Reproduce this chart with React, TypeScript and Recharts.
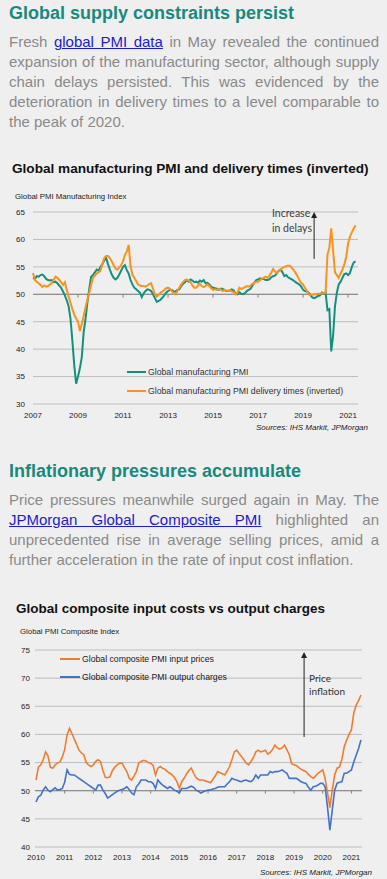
import React from 'react';
import { LineChart, Line, XAxis, YAxis, CartesianGrid, ReferenceLine } from 'recharts';

const FONT = '"Liberation Sans", Arial, sans-serif';
const TEAL_TEXT = '#188a7c';
const GREY_TEXT = '#8a8a8a';
const LINK = '#1b1bcf';

// ---------- chart 1: manufacturing PMI vs delivery times (inverted), monthly, Jan 2007 - May 2021
const pmiStartYear = 2007;
const manufacturingPmi: number[][] = [
  [53.0, 52.8, 53.3, 53.2, 53.5, 53.6, 53.3, 52.8, 52.6, 52.5, 52.6, 52.2],
  [52.3, 52.0, 51.6, 51.2, 50.5, 49.8, 48.9, 47.8, 45.5, 41.5, 37.0, 33.7],
  [35.0, 36.5, 38.5, 43.0, 45.5, 48.5, 51.0, 53.2, 53.5, 54.0, 54.5, 54.3],
  [55.0, 55.5, 56.2, 56.6, 55.5, 54.5, 53.6, 53.0, 52.7, 53.0, 53.6, 54.3],
  [55.0, 55.3, 54.4, 53.8, 52.6, 51.8, 51.2, 50.9, 50.6, 50.3, 49.5, 50.2],
  [50.6, 50.9, 50.8, 50.6, 50.0, 49.3, 48.6, 48.8, 49.0, 49.4, 49.8, 50.3],
  [50.6, 50.8, 50.8, 50.5, 50.5, 50.8, 50.9, 51.5, 51.9, 52.2, 52.6, 52.3],
  [52.7, 52.5, 52.2, 52.3, 52.1, 52.5, 52.3, 52.6, 52.0, 52.1, 51.8, 51.4],
  [51.2, 51.1, 51.0, 50.8, 51.0, 51.0, 50.8, 50.6, 50.6, 50.7, 50.9, 50.7],
  [50.1, 50.0, 50.4, 50.1, 50.0, 50.2, 50.6, 50.8, 51.0, 51.6, 52.1, 52.6],
  [52.7, 52.9, 52.8, 52.8, 52.6, 52.6, 52.7, 53.1, 53.3, 53.4, 53.8, 54.3],
  [54.5, 54.0, 53.3, 53.5, 53.1, 52.9, 52.7, 52.5, 52.2, 52.0, 51.8, 51.4],
  [50.8, 50.6, 50.5, 50.3, 49.8, 49.4, 49.3, 49.5, 49.7, 49.8, 50.3, 50.1],
  [50.4, 47.1, 47.3, 39.6, 42.4, 47.8, 50.3, 51.8, 52.3, 53.0, 53.7, 53.8],
  [53.5, 53.9, 55.0, 55.8, 56.0],
];
const deliveryInverted: number[][] = [
  [53.9, 52.6, 52.3, 52.0, 51.7, 51.3, 51.6, 51.4, 51.5, 51.8, 52.0, 52.6],
  [53.2, 53.0, 52.6, 52.2, 51.7, 52.2, 50.8, 49.6, 48.4, 47.3, 46.3, 45.6],
  [45.0, 43.3, 44.6, 46.0, 47.6, 49.0, 50.3, 51.8, 53.0, 53.4, 53.8, 54.0],
  [54.3, 55.5, 56.6, 57.0, 57.0, 56.6, 56.0, 55.3, 54.7, 54.5, 54.9, 55.3],
  [56.0, 57.2, 57.8, 59.0, 55.2, 53.6, 53.0, 52.4, 51.8, 51.6, 51.5, 51.5],
  [51.4, 51.6, 51.9, 52.0, 51.0, 50.0, 49.6, 49.9, 50.3, 50.5, 50.8, 51.1],
  [51.2, 51.0, 50.6, 50.1, 50.0, 50.6, 51.2, 51.8, 52.2, 52.6, 52.7, 52.5],
  [52.2, 51.6, 51.2, 51.2, 51.6, 51.9, 51.5, 51.3, 51.5, 51.8, 51.5, 51.1],
  [50.8, 50.9, 50.8, 51.0, 50.9, 50.6, 50.8, 50.7, 50.6, 50.8, 50.5, 50.4],
  [50.0, 50.3, 51.2, 51.0, 51.1, 51.3, 51.5, 51.4, 51.6, 51.9, 52.1, 52.3],
  [52.3, 52.6, 52.8, 53.0, 53.2, 53.0, 53.4, 53.9, 54.6, 54.2, 53.9, 54.2],
  [54.5, 54.8, 55.0, 55.1, 55.2, 55.2, 54.8, 54.4, 53.9, 53.3, 52.6, 52.1],
  [51.8, 51.2, 50.6, 50.0, 49.9, 49.9, 50.0, 50.0, 50.1, 50.1, 50.2, 50.2],
  [50.3, 57.2, 58.5, 62.0, 58.0, 54.0, 53.5, 53.0, 53.8, 54.5, 55.5, 56.8],
  [59.3, 60.5, 61.3, 62.0, 62.6],
];
const pmiXTicks = [2007, 2009, 2011, 2013, 2015, 2017, 2019, 2021];
const pmiYTicks = [30, 35, 40, 45, 50, 55, 60, 65];

// ---------- chart 2: composite input prices vs output charges, monthly, Jan 2010 - May 2021
const compStartYear = 2010;
const inputPrices: number[][] = [
  [51.9, 54.2, 54.6, 55.5, 56.9, 56.2, 54.2, 54.0, 54.6, 54.9, 55.1, 56.0],
  [57.3, 59.9, 61.1, 60.2, 59.2, 58.2, 57.2, 56.7, 56.4, 55.0, 54.6, 54.3],
  [54.6, 55.2, 55.5, 55.2, 53.6, 52.4, 52.3, 52.5, 53.6, 54.2, 54.6, 54.9],
  [54.9, 54.1, 53.4, 52.2, 51.9, 52.6, 53.4, 54.9, 55.2, 55.4, 55.3, 55.0],
  [54.9, 54.5, 52.8, 54.0, 54.3, 54.0, 53.8, 53.4, 53.1, 52.8, 52.3, 51.6],
  [50.4, 51.6, 52.2, 53.0, 53.6, 54.0, 53.1, 52.3, 52.0, 51.9, 51.9, 51.7],
  [51.6, 51.4, 52.0, 52.6, 53.4, 53.2, 53.0, 52.8, 53.5, 54.3, 55.5, 56.9],
  [57.2, 56.6, 56.1, 55.5, 54.9, 54.6, 55.2, 55.9, 56.9, 57.2, 56.9, 57.0],
  [57.2, 56.5, 56.8, 57.3, 58.1, 57.6, 57.4, 57.6, 58.1, 57.3, 56.4, 54.8],
  [54.6, 54.5, 54.1, 53.8, 53.6, 53.4, 52.9, 52.5, 52.2, 52.6, 53.1, 53.4],
  [53.7, 52.2, 49.6, 47.0, 50.1, 52.8, 54.0, 54.2, 55.5, 57.8, 59.0, 60.0],
  [60.8, 63.8, 65.2, 66.0, 67.0],
];
const outputCharges: number[][] = [
  [48.0, 48.9, 49.2, 50.1, 50.7, 50.1, 49.8, 50.2, 50.5, 50.1, 50.2, 50.4],
  [51.5, 53.7, 52.9, 52.8, 52.8, 52.5, 52.2, 51.9, 51.6, 51.3, 51.0, 50.7],
  [50.4, 50.1, 51.0, 51.0, 50.1, 49.5, 48.7, 49.0, 49.3, 49.6, 49.9, 50.1],
  [50.2, 50.4, 50.7, 50.2, 49.6, 49.3, 50.7, 51.2, 51.9, 51.9, 51.9, 51.6],
  [51.6, 51.3, 50.4, 51.9, 51.4, 51.0, 50.7, 50.4, 50.7, 50.4, 50.1, 49.9],
  [49.6, 50.4, 50.4, 50.4, 50.6, 50.8, 50.6, 50.1, 49.9, 49.6, 49.8, 50.0],
  [50.1, 50.1, 50.3, 50.4, 50.6, 50.7, 50.7, 50.7, 51.2, 51.6, 52.2, 52.0],
  [51.9, 51.7, 51.6, 51.8, 51.9, 51.7, 51.6, 52.0, 52.8, 52.2, 52.8, 52.8],
  [52.8, 52.8, 53.4, 53.2, 53.4, 53.4, 53.5, 53.7, 53.4, 53.1, 52.2, 52.2],
  [52.2, 52.2, 51.9, 51.6, 51.4, 51.3, 50.6, 50.1, 50.7, 50.8, 51.0, 51.3],
  [51.3, 50.7, 47.1, 43.0, 46.6, 50.1, 51.3, 51.5, 51.6, 53.1, 53.1, 53.4],
  [53.7, 55.1, 56.3, 57.5, 59.0],
];
const compXTicks = [2010, 2011, 2012, 2013, 2014, 2015, 2016, 2017, 2018, 2019, 2020, 2021];
const compYTicks = [40, 45, 50, 55, 60, 65, 70, 75];

type Row = { t: number; a: number; b: number };

function monthly(startYear: number, a: number[][], b: number[][]): Row[] {
  const rows: Row[] = [];
  a.forEach((yearVals, yi) => {
    yearVals.forEach((v, m) => {
      rows.push({ t: startYear + yi + m / 12, a: v, b: b[yi][m] });
    });
  });
  return rows;
}

const pmiData = monthly(pmiStartYear, manufacturingPmi, deliveryInverted);
const compData = monthly(compStartYear, inputPrices, outputCharges);

const arrowShape = (color: string) => (p: any) => {
  const x = p.x1;
  const top = Math.min(p.y1, p.y2);
  const bottom = Math.max(p.y1, p.y2);
  return (
    <g>
      <line x1={x} y1={bottom} x2={x} y2={top + 4} stroke={color} strokeWidth={1} />
      <polygon points={`${x - 3},${top + 6} ${x + 3},${top + 6} ${x},${top}`} fill={color} />
    </g>
  );
};

const abs = (left: number, top: number, extra: React.CSSProperties = {}): React.CSSProperties => ({
  position: 'absolute',
  left,
  top,
  whiteSpace: 'nowrap',
  ...extra,
});

const Para: React.FC<{ top: number; lines: React.ReactNode[] }> = ({ top, lines }) => (
  <>
    {lines.map((l, i) => (
      <div
        key={i}
        style={abs(9, top + i * 20, {
          width: 370,
          height: 20,
          lineHeight: '20px',
          fontSize: 15,
          color: GREY_TEXT,
          textAlign: 'justify',
          textAlignLast: i === lines.length - 1 ? 'left' : 'justify',
          whiteSpace: 'normal',
        })}
      >
        {l}
      </div>
    ))}
  </>
);

const Link: React.FC<{ children: React.ReactNode }> = ({ children }) => (
  <span style={{ color: LINK, textDecoration: 'underline' }}>{children}</span>
);

const LegendRow: React.FC<{ left: number; y: number; color: string; w: number; label: string; textColor: string; lw: number }> = ({
  left, y, color, w, label, textColor, lw,
}) => (
  <div style={abs(left, y - 6, { height: 12, display: 'flex', alignItems: 'center', fontSize: 8.7, color: textColor })}>
    <span style={{ display: 'inline-block', width: w, height: lw, background: color, marginRight: 2 }} />
    <span>{label}</span>
  </div>
);

const App: React.FC = () => {
  return (
    <div
      style={{
        position: 'absolute',
        left: 0,
        top: 0,
        width: 387,
        height: 879,
        background: '#efefef',
        overflow: 'hidden',
        fontFamily: FONT,
      }}
    >
      <div style={abs(9, 2, { fontSize: 18, lineHeight: '22px', fontWeight: 700, color: TEAL_TEXT })}>
        Global supply constraints persist
      </div>
      <Para
        top={32}
        lines={[
          <>Fresh <Link>global PMI data</Link> in May revealed the continued</>,
          'expansion of the manufacturing sector, although supply',
          'chain delays persisted. This was evidenced by the',
          'deterioration in delivery times to a level comparable to',
          'the peak of 2020.',
        ]}
      />

      <div style={abs(12, 161, { fontSize: 13.6, lineHeight: '16px', fontWeight: 700, color: '#111' })}>
        Global manufacturing PMI and delivery times (inverted)
      </div>
      <div style={abs(15, 192, { fontSize: 7.8, lineHeight: '10px', color: '#222' })}>Global PMI Manufacturing Index</div>

      <div style={abs(0, 200)}>
        <LineChart width={387} height={224} data={pmiData} margin={{ top: 12, right: 29, bottom: 0, left: 0 }}>
          <CartesianGrid vertical={false} stroke="#bdbdbd" strokeWidth={1} />
          <XAxis
            dataKey="t"
            type="number"
            domain={[2007, 2021.44]}
            ticks={pmiXTicks}
            axisLine={false}
            tickLine={false}
            height={20}
            tickSize={6}
            tickMargin={2}
            interval={0}
            tick={{ fontSize: 8, fill: '#222', fontFamily: FONT }}
          />
          <YAxis
            type="number"
            domain={[30, 65]}
            ticks={pmiYTicks}
            axisLine={false}
            tickLine={false}
            width={33}
            tickSize={6}
            tickMargin={2}
            interval={0}
            tick={{ fontSize: 8, fill: '#222', fontFamily: FONT }}
          />
          <ReferenceLine y={50} stroke="#808080" strokeWidth={1} />
          {pmiXTicks.slice(1).map((yr) => (
            <ReferenceLine
              key={yr}
              segment={[{ x: yr, y: 50 }, { x: yr, y: 49.4 }]}
              stroke="#808080"
              strokeWidth={1}
            />
          ))}
          <Line type="linear" dataKey="a" stroke="#14907f" strokeWidth={2} dot={false} isAnimationActive={false} />
          <Line type="linear" dataKey="b" stroke="#f7931e" strokeWidth={2} dot={false} isAnimationActive={false} />
          <ReferenceLine
            segment={[{ x: 2019.49, y: 56.45 }, { x: 2019.49, y: 65 }]}
            shape={arrowShape('#222')}
          />
        </LineChart>
      </div>
      <div style={abs(272, 206, { fontSize: 10.5, lineHeight: '15px', color: '#404040', fontFamily: 'Lato, "Open Sans", sans-serif' })}>
        Increase
        <br />
        in delays
      </div>
      <LegendRow left={127} y={372} color="#14907f" w={19} lw={2} label="Global manufacturing PMI" textColor="#333" />
      <LegendRow left={127} y={391} color="#f7931e" w={19} lw={2} label="Global manufacturing PMI delivery times (inverted)" textColor="#333" />
      <div style={abs(0, 423, { width: 368, textAlign: 'right', fontSize: 8, fontStyle: 'italic', color: '#222', lineHeight: '10px' })}>
        Sources: IHS Markit, JPMorgan
      </div>

      <div style={abs(9, 460, { fontSize: 18, lineHeight: '22px', fontWeight: 700, color: TEAL_TEXT })}>
        Inflationary pressures accumulate
      </div>
      <Para
        top={490}
        lines={[
          'Price pressures meanwhile surged again in May. The',
          <><Link>JPMorgan Global Composite PMI</Link> highlighted an</>,
          'unprecedented rise in average selling prices, amid a',
          'further acceleration in the rate of input cost inflation.',
        ]}
      />

      <div style={abs(16, 601, { fontSize: 13.5, lineHeight: '16px', fontWeight: 700, color: '#111' })}>
        Global composite input costs vs output charges
      </div>
      <div style={abs(20, 627, { fontSize: 7.8, lineHeight: '10px', color: '#222' })}>Global PMI Composite Index</div>

      <div style={abs(0, 640)}>
        <LineChart width={387} height={225} data={compData} margin={{ top: 10, right: 25, bottom: 0, left: 0 }}>
          <CartesianGrid vertical={false} stroke="#bdbdbd" strokeWidth={1} />
          <XAxis
            dataKey="t"
            type="number"
            domain={[2009.965, 2021.37]}
            ticks={compXTicks}
            axisLine={false}
            tickLine={false}
            height={18}
            tickSize={5}
            tickMargin={2}
            interval={0}
            tick={{ fontSize: 8, fill: '#222', fontFamily: FONT }}
          />
          <YAxis
            type="number"
            domain={[40, 75]}
            ticks={compYTicks}
            axisLine={false}
            tickLine={false}
            width={35}
            tickSize={3}
            tickMargin={2}
            interval={0}
            tick={{ fontSize: 8, fill: '#222', fontFamily: FONT }}
          />
          <ReferenceLine y={50} stroke="#808080" strokeWidth={1} />
          {compXTicks.slice(1).map((yr) => (
            <ReferenceLine
              key={yr}
              segment={[{ x: yr, y: 50 }, { x: yr, y: 49.5 }]}
              stroke="#808080"
              strokeWidth={1}
            />
          ))}
          <Line type="linear" dataKey="a" stroke="#ed7d31" strokeWidth={1.6} dot={false} isAnimationActive={false} />
          <Line type="linear" dataKey="b" stroke="#4472c4" strokeWidth={1.6} dot={false} isAnimationActive={false} />
          <ReferenceLine
            segment={[{ x: 2019.35, y: 59.55 }, { x: 2019.35, y: 74.65 }]}
            shape={arrowShape('#222')}
          />
        </LineChart>
      </div>
      <LegendRow left={60} y={659} color="#ed7d31" w={20} lw={1.5} label="Global composite PMI input prices" textColor="#1a1a1a" />
      <LegendRow left={60} y={677} color="#4472c4" w={20} lw={1.5} label="Global composite PMI output charges" textColor="#1a1a1a" />
      <div style={abs(309, 672, { fontSize: 10, lineHeight: '13px', color: '#333', fontFamily: 'Lato, "Open Sans", sans-serif' })}>
        Price
        <br />
        inflation
      </div>
      <div style={abs(0, 868, { width: 372, textAlign: 'right', fontSize: 8, fontStyle: 'italic', color: '#222', lineHeight: '10px' })}>
        Sources: IHS Markit, JPMorgan
      </div>
    </div>
  );
};

export default App;
